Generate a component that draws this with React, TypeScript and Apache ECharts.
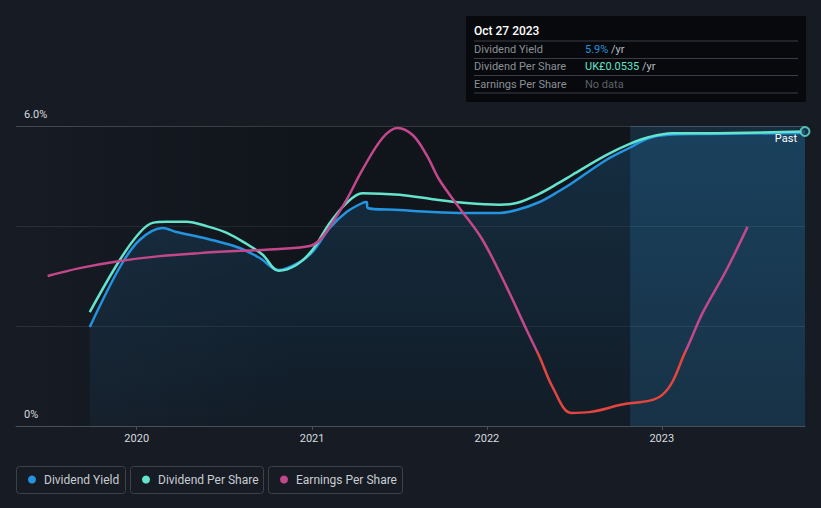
import React, { useEffect, useRef } from 'react';
import * as echarts from 'echarts';

const yieldDates = ['2019-09-25','2019-11-27','2020-01-07','2020-02-24','2020-03-24','2020-05-11','2020-06-22','2020-08-03','2020-09-14','2020-10-23','2020-12-06','2021-01-02','2021-02-07','2021-03-14','2021-04-16','2021-04-25','2021-04-27','2021-07-03','2021-09-09','2021-11-19','2022-01-27','2022-03-04','2022-04-21','2022-06-01','2022-06-28','2022-09-07','2022-10-25','2022-12-06','2023-01-11','2023-04-04','2023-10-27'];
const yieldValues = [1.98,3.18,3.72,3.96,3.88,3.78,3.68,3.56,3.36,3.12,3.28,3.48,3.96,4.28,4.46,4.48,4.36,4.32,4.28,4.26,4.26,4.32,4.48,4.70,4.86,5.32,5.56,5.76,5.82,5.84,5.86];

const dpsDates = ['2019-09-25','2019-11-27','2020-01-07','2020-02-03','2020-03-04','2020-04-14','2020-05-26','2020-07-07','2020-08-17','2020-09-20','2020-10-23','2020-11-30','2021-01-02','2021-02-07','2021-03-14','2021-04-16','2021-07-03','2021-09-09','2021-11-19','2022-01-27','2022-03-04','2022-04-21','2022-06-01','2022-06-28','2022-09-07','2022-10-25','2022-12-06','2023-01-23','2023-04-04','2023-10-27'];
const dpsValues = [0.0207,0.0302,0.0351,0.0369,0.0371,0.0371,0.0363,0.0351,0.0331,0.0311,0.0282,0.0293,0.0320,0.0369,0.0405,0.0423,0.0420,0.0412,0.0405,0.0402,0.0405,0.0422,0.0442,0.0456,0.0492,0.0512,0.0525,0.0532,0.0532,0.0535];

const epsDates = ['2019-06-29','2019-09-04','2019-11-27','2020-02-18','2020-05-11','2020-08-03','2020-10-25','2020-12-27','2021-01-17','2021-02-07','2021-03-14','2021-04-16','2021-05-28','2021-06-28','2021-07-30','2021-08-28','2021-09-24','2021-11-05','2021-12-23','2022-02-11','2022-03-25','2022-04-21','2022-05-18','2022-06-26','2022-08-03','2022-10-05','2023-01-02','2023-02-21','2023-03-27','2023-05-16','2023-06-29'];
const epsValues = [2.00,2.21,2.40,2.53,2.61,2.67,2.72,2.80,2.96,3.31,4.03,4.83,5.68,5.95,5.76,5.23,4.56,3.81,2.96,1.71,0.56,-0.16,-0.96,-1.65,-1.63,-1.44,-1.17,0.03,1.01,2.16,3.31];

const seriesNames = ['Dividend Yield', 'Dividend Per Share', 'Earnings Per Share'];
const yTickLabels: Record<number, string> = { 0: '0%', 6: '6.0%' };
const tooltipDate = 'Oct 27 2023';
const tooltipRows = [
  { label: 'Dividend Yield', value: '5.9%', unit: ' /yr' },
  { label: 'Dividend Per Share', value: 'UK£0.0535', unit: ' /yr' },
  { label: 'Earnings Per Share', value: 'No data', unit: '' },
];
const xMin = '2019-04-24';
const xMax = '2023-10-27';
const pastStart = '2022-10-27';
const epsMin = -2;
const epsMax = 6;

const BLUE = '#2394df';
const CYAN = '#64e4cc';
const PINK = '#c4478b';
const RED = '#e5453f';
const FONT = 'Roboto, "Noto Sans", sans-serif';

const GRID = { left: 16, right: 16, top: 126, bottom: 82 };
const W = 821;
const H = 508;

const zip = (d: string[], v: number[]) => d.map((x, i) => [x, v[i]]);

export default function App() {
  const ref = useRef<HTMLDivElement>(null);
  useEffect(() => {
    const chart = echarts.init(ref.current!, undefined, { renderer: 'svg' });
    const legendBoxes = [
      { x: 16, w: 109 },
      { x: 130, w: 133 },
      { x: 268, w: 134 },
    ];
    const colors = [BLUE, CYAN, PINK];
    const legendGraphics: any[] = [];
    seriesNames.forEach((n, i) => {
      const b = legendBoxes[i];
      legendGraphics.push({
        type: 'rect', left: b.x, top: 466,
        shape: { width: b.w, height: 27, r: 3 },
        style: { fill: 'transparent', stroke: '#3c424b', lineWidth: 1 },
      });
      legendGraphics.push({
        type: 'circle', x: b.x + 16, y: 479.5, shape: { r: 4 }, style: { fill: colors[i] },
      });
      legendGraphics.push({
        type: 'text', x: b.x + 28, y: 479.5,
        style: { text: n, fill: '#c9cdd2', font: `12px ${FONT}`, textVerticalAlign: 'middle' },
      });
    });
    const tipGraphics: any[] = [
      { type: 'rect', left: 466, top: 16, shape: { width: 340, height: 86 }, style: { fill: '#07090c' } },
      { type: 'text', x: 474, y: 31, style: { text: tooltipDate, fill: '#ffffff', font: `500 12px ${FONT}`, textVerticalAlign: 'middle' } },
    ];
    const lineYs = [41, 58.5, 75.5, 93];
    lineYs.forEach((y) => {
      tipGraphics.push({ type: 'line', shape: { x1: 474, y1: y, x2: 798, y2: y }, style: { stroke: '#3a3e44', lineWidth: 1 } });
    });
    const rowYs = [49, 66.5, 84];
    const valColors = [BLUE, CYAN, '#5d6167'];
    tooltipRows.forEach((r, i) => {
      tipGraphics.push({ type: 'text', x: 474, y: rowYs[i], style: { text: r.label, fill: '#8b9097', font: `11px ${FONT}`, textVerticalAlign: 'middle' } });
      tipGraphics.push({
        type: 'text', x: 585, y: rowYs[i],
        style: {
          text: `{v|${r.value}}{u|${r.unit}}`,
          textVerticalAlign: 'middle',
          rich: {
            v: { fill: valColors[i], font: `11px ${FONT}` },
            u: { fill: '#b8bcc2', font: `11px ${FONT}` },
          },
        },
      });
    });

    const plotTop = GRID.top;
    const plotBottom = H - GRID.bottom;
    const zeroOffset = (epsMax - 0) / (epsMax - epsMin);
    const epsColor = new echarts.graphic.LinearGradient(0, plotTop, 0, plotBottom, [
      { offset: 0, color: PINK },
      { offset: zeroOffset, color: PINK },
      { offset: zeroOffset, color: RED },
      { offset: 1, color: RED },
    ], true);

    chart.setOption({
      animation: false,
      backgroundColor: '#161b24',
      grid: { ...GRID, containLabel: false },
      xAxis: {
        type: 'time',
        min: xMin,
        max: xMax,
        minInterval: 365 * 24 * 3600 * 1000,
        splitNumber: 4,
        axisLine: { show: true, lineStyle: { color: '#4a5059' } },
        axisTick: { show: true, length: 4, lineStyle: { color: '#4a5059' } },
        splitLine: { show: false },
        axisLabel: {
          color: '#d8dbdf', fontSize: 11, fontFamily: FONT, margin: 7,
          showMinLabel: false, showMaxLabel: false,
          formatter: (v: number) => String(new Date(v).getFullYear()),
        },
      },
      yAxis: [
        {
          type: 'value', min: 0, max: 6, interval: 2, position: 'left',
          axisLine: { show: false }, axisTick: { show: false },
          splitLine: { show: true, lineStyle: { color: ['#3a3f47', '#2a3039', '#2a3039', '#454a52'], width: 1 } },
          axisLabel: {
            inside: true, margin: 8, color: '#d8dbdf', fontSize: 11, fontFamily: FONT,
            verticalAlign: 'bottom', padding: [0, 0, 6, 0],
            formatter: (v: number) => yTickLabels[v] ?? '',
          },
        },
        { type: 'value', min: 0, max: 0.0545, show: false, splitLine: { show: false } },
        { type: 'value', min: epsMin, max: epsMax, show: false, splitLine: { show: false } },
      ],
      series: [
        {
          name: seriesNames[0], type: 'line', yAxisIndex: 0,
          data: zip(yieldDates, yieldValues),
          smooth: 0.35, showSymbol: false,
          lineStyle: { color: BLUE, width: 2.5 },
          itemStyle: { color: BLUE },
          areaStyle: {
            color: new echarts.graphic.LinearGradient(0, 0, 0, 1, [
              { offset: 0, color: 'rgba(35,148,223,0.28)' },
              { offset: 1, color: 'rgba(35,148,223,0.08)' },
            ]),
          },
          markArea: {
            silent: true,
            data: [
              [{
                xAxis: xMin,
                itemStyle: {
                  color: new echarts.graphic.LinearGradient(0, 0, 1, 0, [
                    { offset: 0, color: 'rgba(0,0,0,0)' },
                    { offset: 0.45, color: 'rgba(0,0,0,0.24)' },
                    { offset: 1, color: 'rgba(0,0,0,0.24)' },
                  ]),
                },
              }, { xAxis: pastStart }],
              [{ xAxis: pastStart, itemStyle: { color: 'rgba(35,148,223,0.14)' } }, { xAxis: xMax }],
            ],
          },
          z: 2,
        },
        {
          name: seriesNames[1], type: 'line', yAxisIndex: 1,
          data: zip(dpsDates, dpsValues),
          smooth: 0.35, showSymbol: false,
          lineStyle: { color: CYAN, width: 2.5 },
          itemStyle: { color: CYAN },
          z: 3,
        },
        {
          name: seriesNames[2], type: 'line', yAxisIndex: 2,
          data: zip(epsDates, epsValues),
          smooth: 0.35, showSymbol: false,
          lineStyle: { width: 2.5, color: epsColor },
          itemStyle: { color: PINK },
          z: 4,
        },
        {
          type: 'scatter', yAxisIndex: 1,
          data: [[dpsDates[dpsDates.length - 1], dpsValues[dpsValues.length - 1]]],
          symbol: 'circle', symbolSize: 9,
          itemStyle: { color: '#163a55', borderColor: CYAN, borderWidth: 2 },
          z: 5, silent: true,
        },
      ],
      graphic: [
        {
          type: 'text', x: 797, y: 138,
          style: { text: 'Past', fill: '#ffffff', font: `11px ${FONT}`, textAlign: 'right', textVerticalAlign: 'middle' },
          z: 10,
        },
        ...tipGraphics,
        ...legendGraphics,
      ],
    });
    return () => chart.dispose();
  }, []);
  return <div ref={ref} style={{ position: 'fixed', left: 0, top: 0, width: W, height: H }} />;
}
